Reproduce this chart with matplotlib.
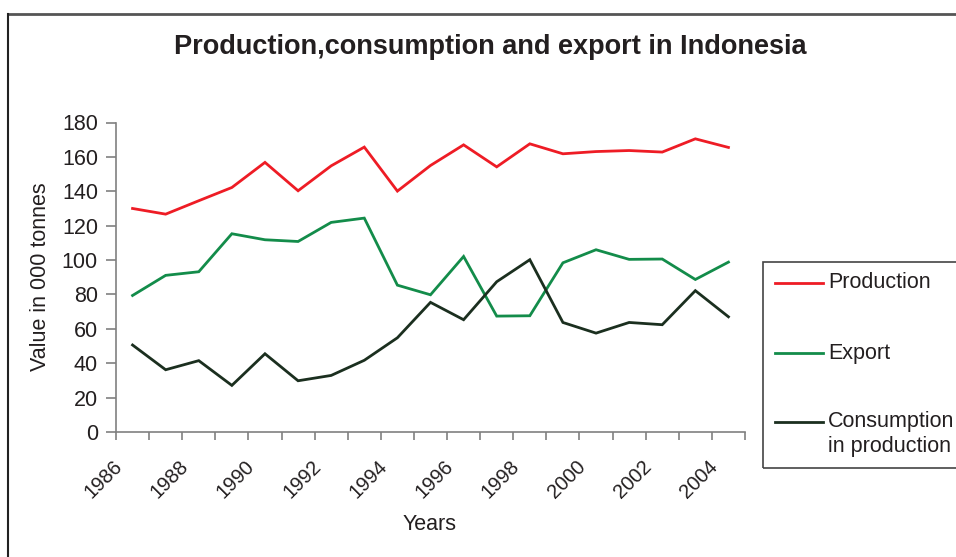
import matplotlib
matplotlib.use("Agg")
import matplotlib.pyplot as plt
import matplotlib.transforms as mtransforms
from matplotlib.lines import Line2D
from matplotlib.patches import Rectangle

plt.rcParams['font.family'] = ['Liberation Sans', 'DejaVu Sans']

years = list(range(1986, 2005))
production = [130.0, 126.7, 134.5, 142.2, 156.8, 140.3, 154.8, 165.7, 140.1, 155.0,
              167.0, 154.2, 167.6, 161.8, 163.1, 163.7, 162.8, 170.5, 165.5]
export = [79.4, 91.1, 93.2, 115.3, 111.8, 110.8, 121.9, 124.4, 85.4, 79.8,
          102.1, 67.4, 67.6, 98.4, 106.0, 100.4, 100.6, 88.7, 98.8]
consumption = [50.6, 36.2, 41.5, 27.1, 45.5, 29.8, 32.9, 41.7, 54.8, 75.4,
               65.3, 87.4, 100.2, 63.7, 57.5, 63.7, 62.4, 82.2, 67.0]
series_names = ["Production", "Export", "Consumption\nin production"]
series_colors = ["#ee1c25", "#138c4a", "#1b2f1f"]
y_ticks = [0, 20, 40, 60, 80, 100, 120, 140, 160, 180]

W, H = 956, 557
fig = plt.figure(figsize=(W / 100, H / 100), dpi=100)

# outer chart frame
fig.add_artist(Line2D([8 / W, 1.0], [1 - 14 / H, 1 - 14 / H], transform=fig.transFigure,
                      color="#555555", lw=2.0))
fig.add_artist(Line2D([8 / W, 8 / W], [0, 1 - 14 / H], transform=fig.transFigure,
                      color="#222222", lw=1.5))

ax = fig.add_axes([116 / W, 1 - 432 / H, (745 - 116) / W, (432 - 122.5) / H])

n = len(years)
xs = [i + 0.5 for i in range(n)]
for vals, col in zip([production, export, consumption], series_colors):
    ax.plot(xs, vals, color=col, lw=2.0, solid_joinstyle="miter")

ax.set_xlim(0, n)
ax.set_ylim(0, 180)
ax.set_yticks(y_ticks)
ax.set_yticklabels([str(v) for v in y_ticks], fontsize=15.5, color="#231f20")
ax.set_xticks(range(n + 1))
ax.set_xticklabels([])
ax.tick_params(axis="x", which="major", length=6, width=1.2, color="#808080", direction="out")
ax.tick_params(axis="y", length=7, width=1.2, color="#808080", direction="out", pad=6)

# rotated year labels under every second category
label_tf = ax.get_xaxis_transform() + mtransforms.ScaledTranslation(
    -20 / 100, -25 / 100, fig.dpi_scale_trans)
for i in range(0, n, 2):
    ax.text(xs[i], 0, str(years[i]), transform=label_tf, rotation=45,
            rotation_mode="anchor", ha="right", va="top", fontsize=14.5,
            color="#231f20", clip_on=False)

for s in ["top", "right"]:
    ax.spines[s].set_visible(False)
for s in ["left", "bottom"]:
    ax.spines[s].set_color("#808080")
    ax.spines[s].set_linewidth(1.2)

fig.text(490 / W, 1 - 47 / H, "Production,consumption and export in Indonesia",
         ha="center", va="center", fontsize=19.5, fontweight="bold", color="#231f20")
fig.text(41 / W, 1 - 277 / H, "Value in 000 tonnes", rotation=90, ha="center",
         va="center", fontsize=15.5, color="#231f20")
fig.text(430 / W, 1 - 524 / H, "Years", ha="center", va="center",
         fontsize=15.5, color="#231f20")

# legend box
fig.add_artist(Rectangle((763 / W, 1 - 468 / H), (1000 - 763) / W, (468 - 262) / H,
                         transform=fig.transFigure, fill=False, ec="#444444", lw=1.2))
legend_line_y = [283, 353, 422]
legend_text_y = [283, 353, 434]
for name, col, ly, ty in zip(series_names, series_colors, legend_line_y, legend_text_y):
    fig.add_artist(Line2D([775 / W, 823 / W], [1 - ly / H, 1 - ly / H],
                          transform=fig.transFigure, color=col, lw=2.0))
    fig.text(828 / W, 1 - ty / H, name, ha="left", va="center", fontsize=15.5,
             color="#231f20", linespacing=1.25)

fig.savefig("out.png", dpi=100)
